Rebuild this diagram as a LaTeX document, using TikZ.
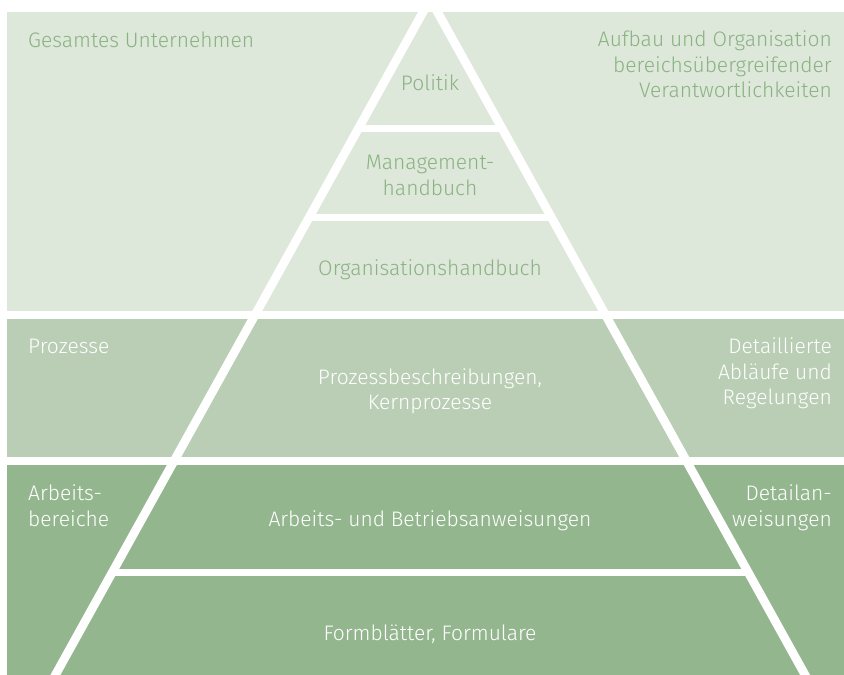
\documentclass[tikz,border=0pt]{standalone}
\usepackage{fontspec}
\setmainfont{Fira Sans Light}
\usetikzlibrary{calc}
\definecolor{bandA}{RGB}{221,231,218}
\definecolor{bandB}{RGB}{185,206,180}
\definecolor{bandC}{RGB}{148,182,143}
\definecolor{txtA}{RGB}{138,178,130}
\tikzset{
  lbl/.style={inner sep=0pt, font=\fontsize{21}{25.5}\selectfont},
  lblA/.style={lbl, text=txtA},
  lblW/.style={lbl, text=white},
  outline/.style={draw=white, line width=8.7pt},
  divider/.style={draw=white, line width=7pt},
}
\begin{document}
\begin{tikzpicture}[x=1pt,y=-1pt]
\useasboundingbox (0,0) rectangle (844,675);
\clip (0,0) rectangle (844,675);
% bands
\fill[bandA] (7,12) rectangle (844,311);
\fill[bandB] (7,319.3) rectangle (844,456.7);
\fill[bandC] (7,465) rectangle (844,675);
% pyramid
\coordinate (apex) at (430.25,-1.07);
\coordinate (lfoot) at (47.05,690);
\coordinate (rfoot) at (813.45,690);
\draw[outline] (lfoot) -- (apex) -- (rfoot);
\foreach \yy in {128.5,217,572.5}{
  \pgfmathsetmacro{\tt}{(\yy+1.07)/691.07}
  \draw[divider] ($(apex)!\tt!(lfoot)$) -- ($(apex)!\tt!(rfoot)$);
}
% texts
\node[lblA, anchor=west] (gesamt) at (28,42) {\strut Gesamtes Unternehmen};
\node[lblA, anchor=east, align=right] (aufbau) at (832,67) {\strut Aufbau und Organisation\\\strut bereichsübergreifender\\\strut Verantwortlichkeiten};
\node[lblA, align=center] (politik) at (430,85) {\strut Politik};
\node[lblA, align=center] (mgmt) at (430,177.5) {\strut Management-\\\strut handbuch};
\node[lblA, align=center] (org) at (430,270) {\strut Organisationshandbuch};
\node[lblW, anchor=west] (prozesse) at (28,348.7) {\strut Prozesse};
\node[lblW, align=center] (prozb) at (430,392) {\strut Prozessbeschreibungen,\\\strut Kernprozesse};
\node[lblW, anchor=east, align=right] (detaill) at (832,374) {\strut Detaillierte\\\strut Abläufe und\\\strut Regelungen};
\node[lblW, anchor=west, align=left] (arbber) at (28,508.3) {\strut Arbeits-\\\strut bereiche};
\node[lblW, align=center] (arbanw) at (430,521.3) {\strut Arbeits- und Betriebsanweisungen};
\node[lblW, anchor=east, align=right] (detanw) at (832,508.3) {\strut Detailan-\\\strut weisungen};
\node[lblW, align=center] (formbl) at (430,635.3) {\strut Formblätter, Formulare};
\end{tikzpicture}
\end{document}
